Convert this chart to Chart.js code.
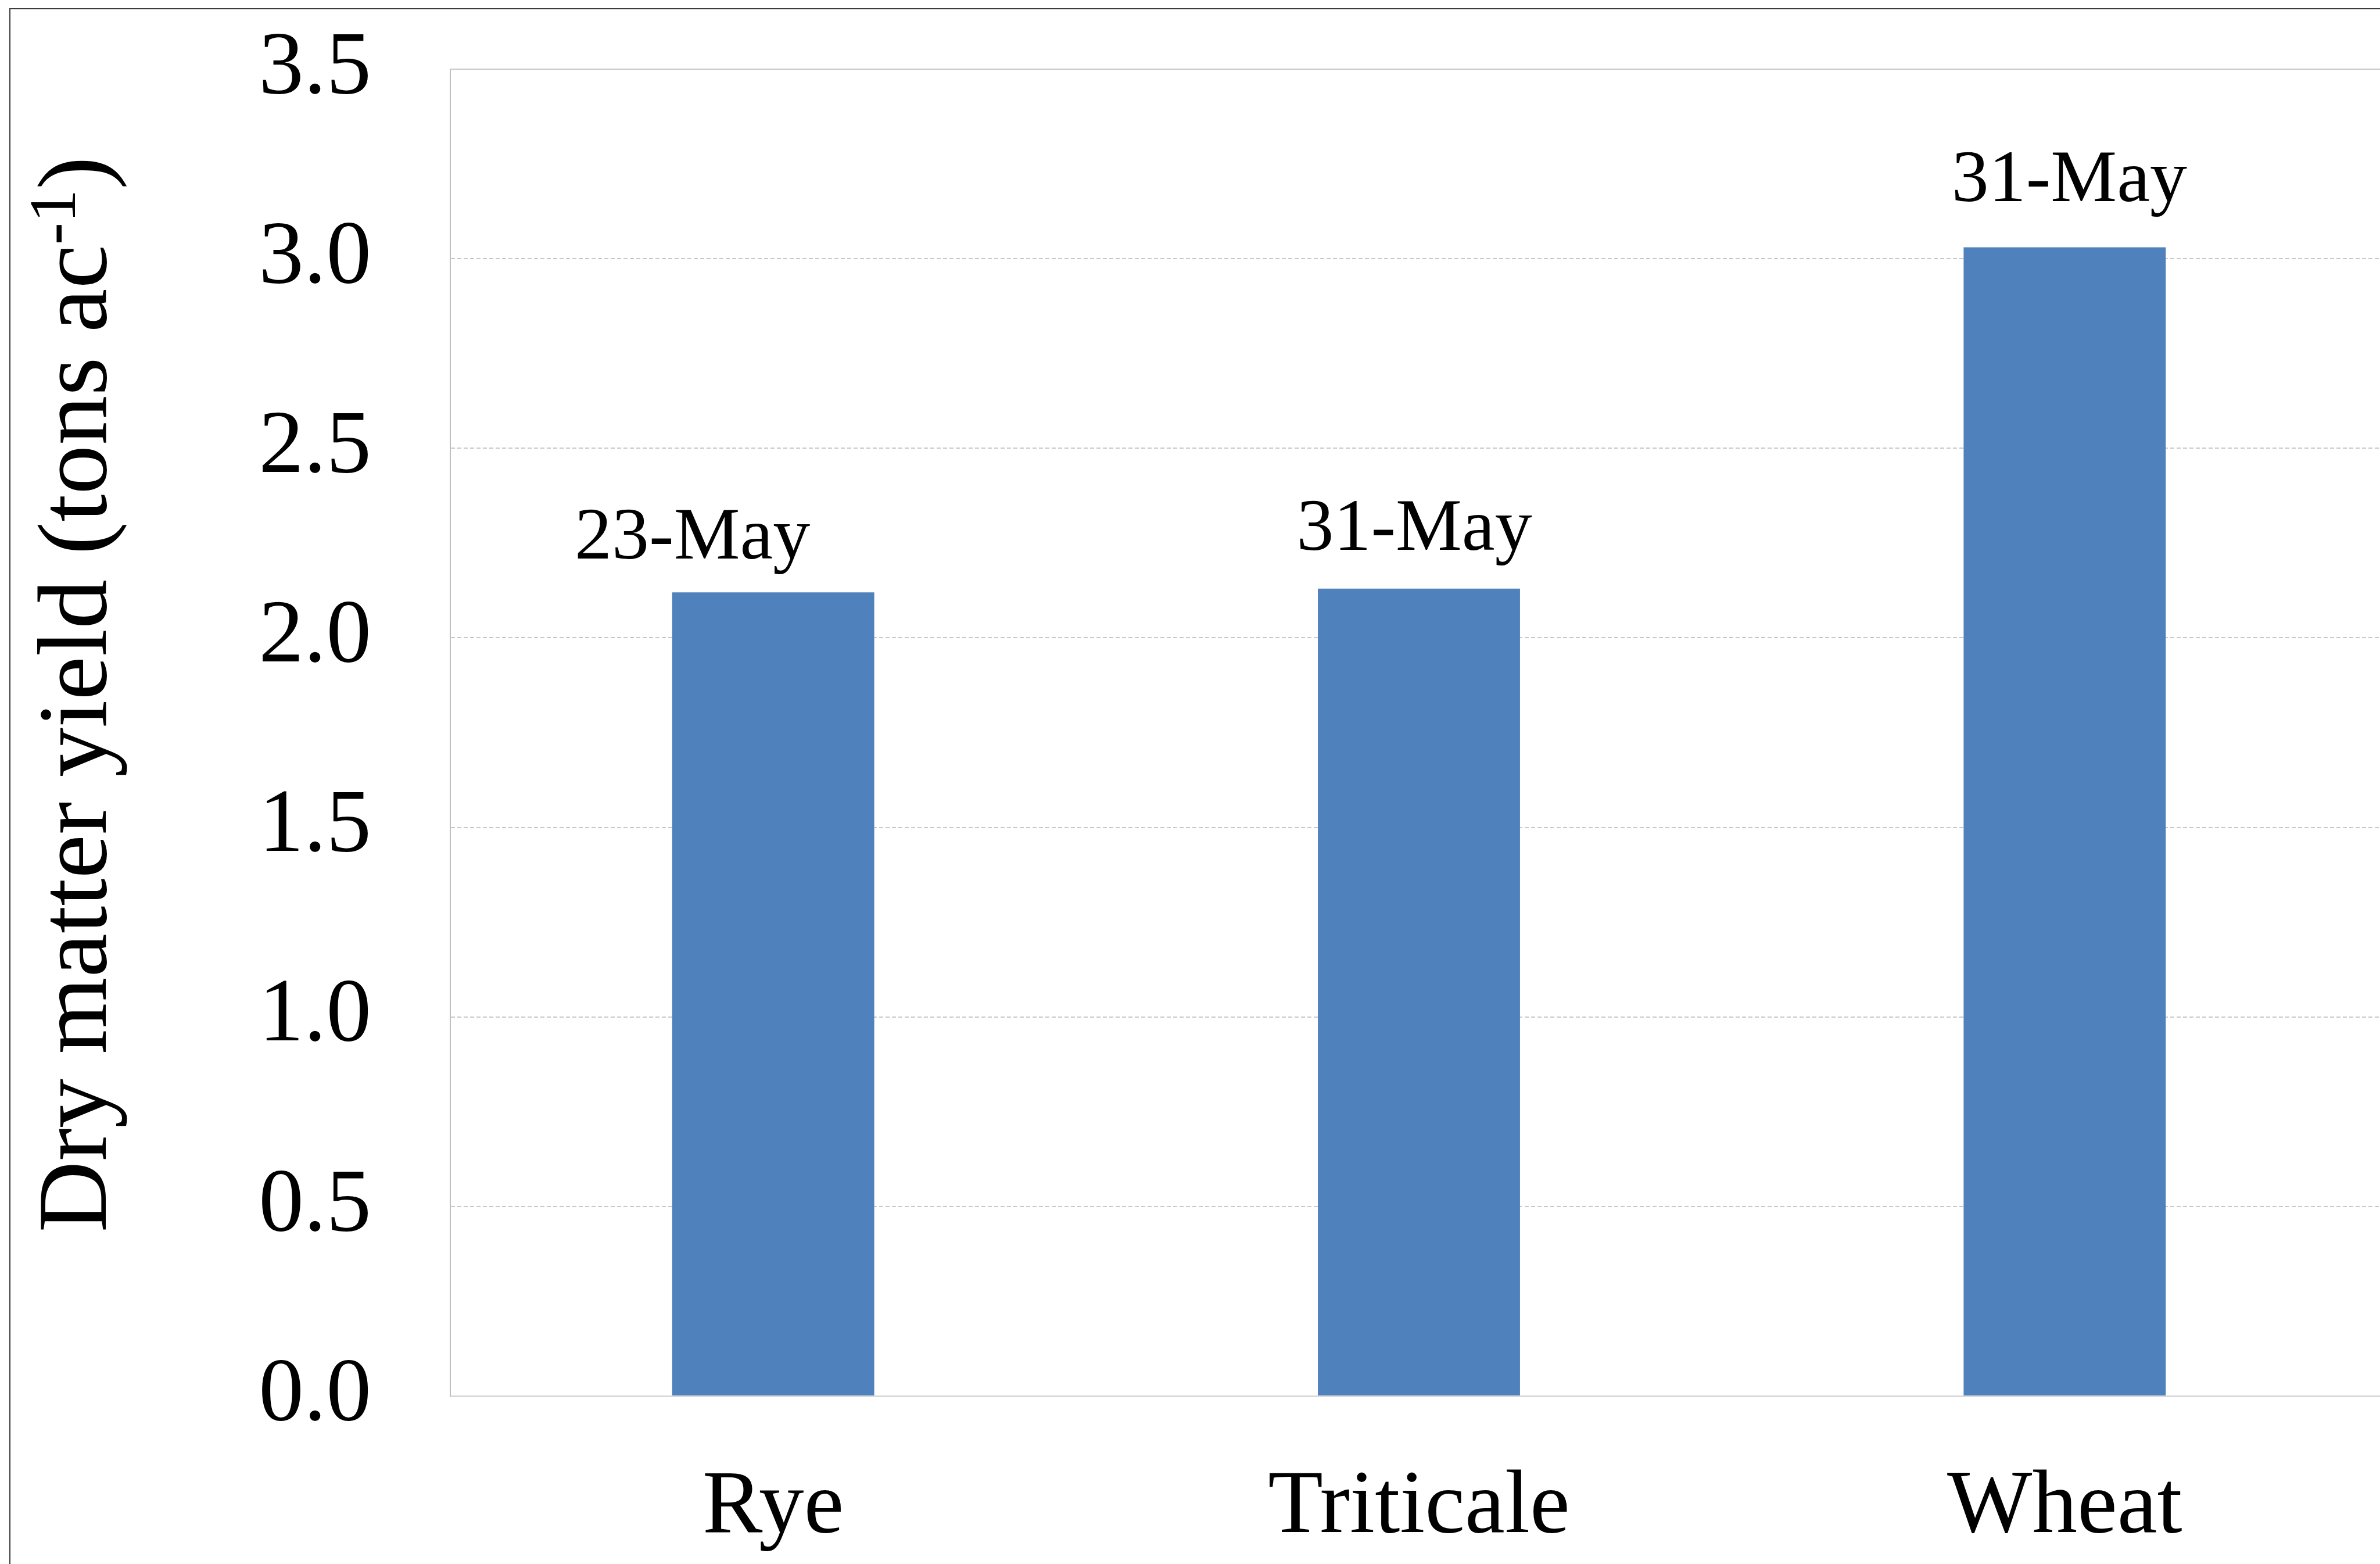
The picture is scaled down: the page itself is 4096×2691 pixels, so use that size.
<!DOCTYPE html>
<html>
<head>
<meta charset="utf-8">
<script src="https://cdn.jsdelivr.net/npm/chart.js@4.4.1/dist/chart.umd.min.js"></script>
<style>
  html, body { margin: 0; padding: 0; background: #fff; overflow: hidden; }
  canvas { display: block; }
</style>
</head>
<body>
<canvas id="yieldChart" width="4120" height="2720"></canvas>
<script>
const crops = ['Rye', 'Triticale', 'Wheat'];
const dryMatterYield = [2.12, 2.13, 3.03];
const harvestDates = ['23-May', '31-May', '31-May'];
const yTickLabels = ['0.0', '0.5', '1.0', '1.5', '2.0', '2.5', '3.0', '3.5'];

const serif = "'Liberation Serif', 'Times New Roman', serif";
Chart.defaults.font.family = serif;
Chart.defaults.color = '#000';

// where the plot area should sit (the right edge runs past the window, like the original)
const plotBox = { left: 775, top: 119, bottom: 2402, right: 4109 };

// outer chart frame, only its top and left edges are inside the window
const frame = {
  id: 'frame',
  beforeDraw(chart) {
    const c = chart.ctx;
    c.save();
    c.fillStyle = '#fff';
    c.fillRect(0, 0, chart.width, chart.height);
    c.strokeStyle = '#3c3c3c';
    c.lineWidth = 2;
    c.strokeRect(17, 15, chart.width + 50, chart.height + 50);
    c.restore();
  },
  beforeDatasetsDraw(chart) {
    // solid top edge of the plot area
    const a = chart.chartArea;
    const c = chart.ctx;
    c.save();
    c.strokeStyle = '#c8c8c8';
    c.lineWidth = 2;
    c.beginPath();
    c.moveTo(a.left, a.top);
    c.lineTo(a.right, a.top);
    c.stroke();
    c.restore();
  }
};

// y title with a real superscript
const yTitle = {
  id: 'yTitle',
  afterDraw(chart) {
    const c = chart.ctx;
    const main = 'Dry matter yield (tons ac', sup = '-1', close = ')';
    const big = '170px ' + serif, small = '114px ' + serif;
    c.save();
    c.font = big;
    const w1 = c.measureText(main).width, w3 = c.measureText(close).width;
    c.font = small;
    const w2 = c.measureText(sup).width;
    const total = w1 + w2 + w3;
    c.translate(182, 1195 + total / 2);
    c.rotate(-Math.PI / 2);
    c.fillStyle = '#000';
    c.textAlign = 'left';
    c.textBaseline = 'alphabetic';
    c.font = big;
    c.fillText(main, 0, 0);
    c.fillText(close, w1 + w2, 0);
    c.font = small;
    c.fillText(sup, w1, -53);
    c.restore();
  }
};

// harvest date above each bar
const dateLabels = {
  id: 'dateLabels',
  afterDatasetsDraw(chart, args, opts) {
    const c = chart.ctx;
    const bars = chart.getDatasetMeta(0).data;
    c.save();
    c.font = opts.size + 'px ' + serif;
    c.fillStyle = '#000';
    c.textAlign = 'center';
    c.textBaseline = 'alphabetic';
    bars.forEach((bar, i) => {
      const n = opts.nudge[i];
      c.fillText(harvestDates[i], bar.x + n[0], bar.y + n[1]);
    });
    c.restore();
  }
};

const chart = new Chart(document.getElementById('yieldChart'), {
  type: 'bar',
  data: {
    labels: crops,
    datasets: [{
      data: dryMatterYield,
      backgroundColor: '#4f81bd',
      categoryPercentage: 1,
      barPercentage: 0.313
    }]
  },
  options: {
    responsive: false,
    animation: false,
    devicePixelRatio: 1,
    layout: { padding: { top: plotBox.top, right: 4120 - plotBox.right, bottom: 0, left: 0 } },
    plugins: {
      legend: { display: false },
      tooltip: { enabled: false },
      dateLabels: { size: 128, nudge: [[-139, -58], [-8, -67], [8, -80]] }
    },
    scales: {
      x: {
        grid: { display: false, drawTicks: false },
        border: { display: true, color: '#d9d9d9', width: 3 },
        ticks: { font: { size: 155 }, padding: 100, color: '#000' },
        afterFit(s) { s.height = 2720 - plotBox.bottom; s.paddingLeft = 0; s.paddingRight = 0; }
      },
      y: {
        min: 0,
        max: 3.5,
        ticks: {
          stepSize: 0.5,
          font: { size: 155 },
          padding: 136,
          color: '#000',
          callback: (v, i) => yTickLabels[i]
        },
        grid: {
          color: ctx => ctx.tick && ctx.tick.value === 0 ? 'rgba(0,0,0,0)' : '#c8c8c8',
          lineWidth: 2,
          drawTicks: false
        },
        border: { display: true, color: '#c0c0c0', width: 2, dash: [7, 4] },
        afterFit(s) { s.width = plotBox.left; s.paddingTop = 0; s.paddingBottom = 0; }
      }
    }
  },
  plugins: [frame, yTitle, dateLabels]
});

// nudge the layout padding until the plot area lands where it should
for (let k = 0; k < 3; k++) {
  const a = chart.chartArea;
  const p = chart.options.layout.padding;
  const dt = plotBox.top - a.top, dr = a.right - plotBox.right;
  if (Math.abs(dt) < 0.5 && Math.abs(dr) < 0.5) break;
  p.top += dt;
  p.right += dr;
  chart.update();
}
</script>
</body>
</html>
